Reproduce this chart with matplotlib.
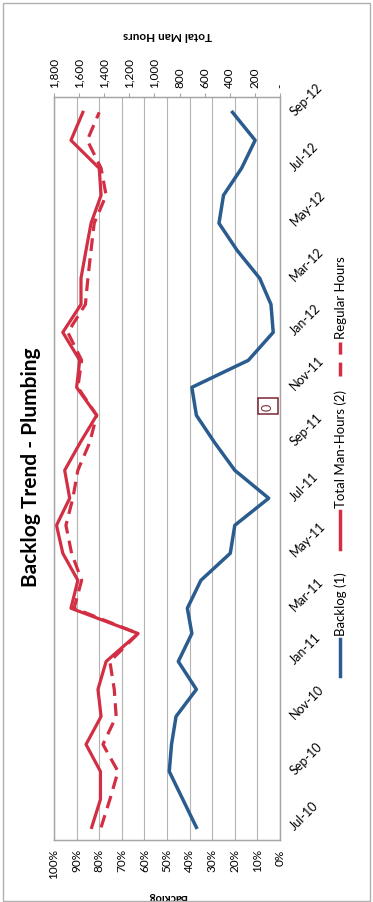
import matplotlib
matplotlib.use('Agg')
import matplotlib.pyplot as plt
from matplotlib.lines import Line2D
from matplotlib.patches import Rectangle
from matplotlib.ticker import FuncFormatter
import pandas as pd

plt.rcParams['font.family'] = ['Lato', 'DejaVu Sans']

#---data: one value per month, Jul-10 .. Sep-12---------
months = pd.date_range('2010-07-01', '2012-09-01', freq='MS')
backlog = [37, 43, 49, 48, 46, 37, 45, 39, 41, 35, 22, 20, 5, 20,
           29, 37, 39, 14, 3, 4, 9, 19, 27, 25, 17, 11, 21]          # %
total_hours = [1500, 1430, 1430, 1545, 1425, 1450, 1385, 1130, 1665, 1610,
               1730, 1780, 1675, 1715, 1590, 1460, 1620, 1595, 1730, 1585,
               1585, 1545, 1505, 1425, 1440, 1665, 1570]
regular_hours = [1425, 1355, 1290, 1410, 1305, 1320, 1355, 1130, 1640, 1580,
                 1660, 1705, 1650, 1610, 1515, 1460, 1610, 1580, 1690, 1550,
                 1530, 1505, 1480, 1385, 1425, 1535, 1440]
pct_ticks = [i / 10 for i in range(11)]
hour_ticks = list(range(0, 1801, 200))
note_text = '0'
note_pos = (0.053, pd.Timestamp('2011-10-11'))

BLUE = '#2B5C8F'
RED = '#D22E44'
GRID = '#b4b4b4'
W, H = 373, 903

fig = plt.figure(figsize=(W / 100, H / 100), dpi=100)
ax = fig.add_axes([54 / W, 1 - 841 / H, 226 / W, 743 / H])
ax2 = ax.twiny()

# backlog on the bottom axis, hours on the top one, both running right-to-left
ax.plot([b / 100 for b in backlog], months, color=BLUE, lw=2.5)
ax2.plot(total_hours, months, color=RED, lw=2.3)
ax2.plot(regular_hours, months, color=RED, lw=2.3, dashes=(4, 2.3))

ax.set_xlim(1, 0)
ax2.set_xlim(1800, 0)
ax.set_ylim(pd.Timestamp('2010-06-17'), pd.Timestamp('2012-09-18'))

ax.set_xticks(pct_ticks)
ax.xaxis.set_major_formatter(FuncFormatter(lambda v, p: '%d%%' % round(v * 100)))
ax.grid(axis='x', color=GRID, lw=0.8)
ax.tick_params(axis='x', length=0, labelsize=8.5, labelrotation=90, pad=6)

ax2.set_xticks(hour_ticks)
ax2.xaxis.set_major_formatter(FuncFormatter(lambda v, p: '{:,}'.format(int(v)) if v else '-'))
ax2.tick_params(axis='x', length=3, color='#a6a6a6', labelsize=8.5, labelrotation=90, pad=4)

ax.set_yticks(months[::2])
ax.set_yticklabels([m.strftime('%b-%y') for m in months[::2]])
ax.yaxis.tick_right()
ax.tick_params(axis='y', length=0, labelsize=9, pad=9)
plt.setp(ax.get_yticklabels(), rotation=45, ha='left', va='center', rotation_mode='anchor')

for a in (ax, ax2):
    for s in a.spines.values():
        s.set_color('#a6a6a6')
        s.set_linewidth(0.9)

ax.set_xlabel('Backlog', rotation=180, fontsize=8, fontweight='bold', labelpad=9)
ax2.set_xlabel('Total Man Hours', rotation=180, fontsize=8.5, fontweight='bold', labelpad=14)

ax.text(note_pos[0], note_pos[1], note_text, rotation=90, ha='center', va='center',
        fontsize=9, color='#7a2633',
        bbox=dict(boxstyle='square,pad=0.35', fc='none', ec='#7a2633', lw=1.1))

fig.text(31 / W, 1 - 467 / H, 'Backlog Trend - Plumbing', rotation=90,
         ha='center', va='center', fontsize=15, fontweight='bold')

# legend, drawn by hand so it can stand on its side
legend_items = [
    ('Backlog (1)', BLUE, '-', 677, 640),
    ('Total Man-Hours (2)', RED, '-', 550, 512),
    ('Regular Hours', RED, '--', 377, 343),
]
for label, col, ls, y0, y1 in legend_items:
    ln = Line2D([340 / W, 340 / W], [1 - y0 / H, 1 - y1 / H], transform=fig.transFigure,
                color=col, lw=2.5, linestyle=ls)
    if ls == '--':
        ln.set_dashes((4, 2.3))
    fig.add_artist(ln)
    fig.text(341 / W, 1 - (y1 - 4) / H, label, rotation=90, ha='center', va='bottom', fontsize=9.5)

fig.add_artist(Rectangle((3 / W, 1 / H), 367 / W, 898 / H, transform=fig.transFigure,
                         fill=False, ec='#b0b0b0', lw=1))

fig.savefig('out.png', dpi=100)
